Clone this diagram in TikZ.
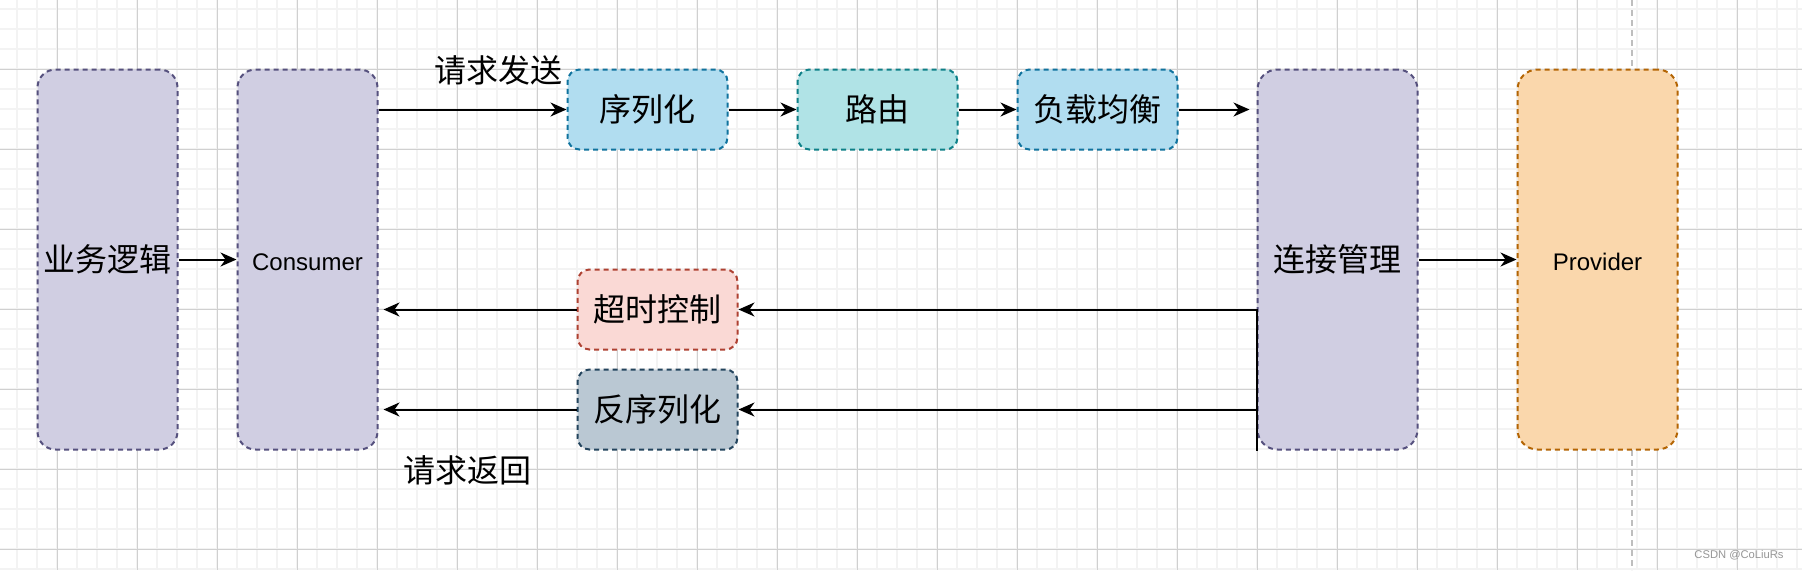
\documentclass[tikz,border=0pt]{standalone}
\usepackage{fontspec}
\setmainfont{Liberation Sans}
\newfontfamily\cjk{Noto Sans CJK SC}
\usetikzlibrary{arrows.meta}
\definecolor{purfill}{HTML}{D0CEE2}
\definecolor{purline}{HTML}{56517E}
\definecolor{bluefill}{HTML}{B1DDF0}
\definecolor{blueline}{HTML}{10739E}
\definecolor{tealfill}{HTML}{B0E3E6}
\definecolor{tealline}{HTML}{0E8088}
\definecolor{redfill}{HTML}{FAD9D5}
\definecolor{redline}{HTML}{AE4132}
\definecolor{grayfill}{HTML}{BAC8D3}
\definecolor{grayline}{HTML}{23445D}
\definecolor{orfill}{HTML}{FAD7AC}
\definecolor{orline}{HTML}{B46504}
\definecolor{minorc}{HTML}{F3F3F3}
\definecolor{majorc}{HTML}{D0D0D0}
\tikzset{
  boxbase/.style={draw, line width=1pt, dash pattern=on 2.5pt off 2pt, inner sep=0pt, align=center},
  tallbox/.style={boxbase, rectangle, rounded corners=9pt, minimum height=190pt},
  smallbox/.style={boxbase, rectangle, rounded corners=6pt, minimum width=80pt, minimum height=40pt},
  cn/.style={font=\cjk\fontsize{16}{19}\selectfont},
  en/.style={font=\fontsize{12}{14}\selectfont, text height=11pt, text depth=0pt},
  arr/.style={line width=1pt, -{Stealth[length=8pt,width=7pt,inset=2.5pt]}},
  lbl/.style={inner sep=0pt, font=\cjk\fontsize{16}{19}\selectfont},
  minorgrid/.style={draw=minorc, line width=0.9pt},
  majorgrid/.style={draw=majorc, line width=0.5pt}
}
\begin{document}
\begin{tikzpicture}[x=0.5pt,y=-0.5pt]
\useasboundingbox (0,0) rectangle (1802,570);
\fill[white] (0,0) rectangle (1802,570);
% grid
\foreach \i in {0,...,89} \draw[minorgrid] ({17.3+20*\i},0) -- ({17.3+20*\i},570);
\foreach \i in {0,...,28} \draw[minorgrid] (0,{9.3+20*\i}) -- (1802,{9.3+20*\i});
\foreach \i in {0,...,22} \draw[majorgrid] ({57.3+80*\i},0) -- ({57.3+80*\i},570);
\foreach \i in {0,...,6} \draw[majorgrid] (0,{69.3+80*\i}) -- (1802,{69.3+80*\i});
% dashed gray vertical guide
\draw[draw={rgb,255:red,190;green,190;blue,190}, line width=1pt, dash pattern=on 3pt off 2pt] (1632,0) -- (1632,570);
% nodes
\node[tallbox, minimum width=70pt, fill=purfill, draw=purline, cn] (biz) at (107.5,259.5) {业务逻辑};
\node[tallbox, minimum width=70pt, fill=purfill, draw=purline, en] (cons) at (307.5,259.5) {Consumer};
\node[smallbox, fill=bluefill, draw=blueline, cn] (ser) at (647.5,109.5) {序列化};
\node[smallbox, fill=tealfill, draw=tealline, cn] (route) at (877.5,109.5) {路由};
\node[smallbox, fill=bluefill, draw=blueline, cn] (lb) at (1097.5,109.5) {负载均衡};
\node[tallbox, minimum width=80pt, rounded corners=10pt, fill=purfill, draw=purline, cn] (conn) at (1337.5,259.5) {连接管理};
\node[tallbox, minimum width=80pt, rounded corners=10pt, fill=orfill, draw=orline, en] (prov) at (1597.5,259.5) {Provider};
\node[smallbox, fill=redfill, draw=redline, cn] (timeout) at (657.5,309.5) {超时控制};
\node[smallbox, fill=grayfill, draw=grayline, cn] (deser) at (657.5,409.5) {反序列化};
% labels
\node[lbl] (sendlbl) at (498,70) {请求发送};
\node[lbl] (retlbl) at (467,470) {请求返回};
% connectors
\draw[arr] (biz) -- (cons);
\draw[arr] (cons.east |- ser.west) -- (ser.west);
\draw[arr] (ser) -- (route);
\draw[arr] (route) -- (lb);
\draw[arr, shorten >=3.5pt] (lb.east) -- (lb.east -| conn.west);
\draw[arr] (conn) -- (prov);
\draw[arr] (conn.south west) |- (timeout.east);
\draw[arr] (conn.south west) |- (deser.east);
\draw[arr, shorten >=2.5pt] (timeout.west) -- (timeout.west -| cons.east);
\draw[arr, shorten >=2.5pt] (deser.west) -- (deser.west -| cons.east);
% watermark
\node[inner sep=0pt, text={rgb,255:red,150;green,150;blue,150}, font=\fontsize{5.6}{6}\selectfont] (wm) at (1739,555) {CSDN @CoLiuRs};
\end{tikzpicture}
\end{document}
